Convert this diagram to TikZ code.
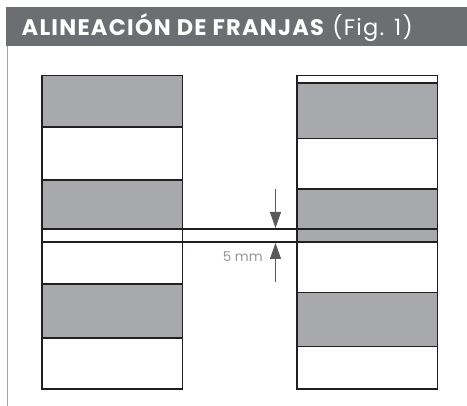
\documentclass[tikz,border=0pt]{standalone}
\usepackage{fontspec}
\newfontfamily\gothic{Poppins}
\newfontfamily\gothicwide[LetterSpace=5.5]{Poppins}
\usetikzlibrary{arrows.meta}
\definecolor{hdrgray}{HTML}{6D6E71}
\definecolor{bandgray}{HTML}{A7A9AC}
\definecolor{inkdark}{HTML}{231F20}
\definecolor{arrowgray}{HTML}{58595B}
\definecolor{labelgray}{HTML}{939598}
\definecolor{framegray}{HTML}{A0A0A0}
\tikzset{
  band/.style={fill=bandgray},
  divider/.style={draw=inkdark, line width=1.9pt},
  outline/.style={draw=inkdark, line width=1.9pt},
  guide/.style={draw=inkdark, line width=2pt},
  dimarrow/.style={draw=arrowgray, line width=1pt, -{Triangle[length=16pt,width=11pt]}, fill=arrowgray},
}
\begin{document}
\begin{tikzpicture}[x=1pt,y=-1pt]
\useasboundingbox (0,0) rectangle (467,406);
% header
\fill[hdrgray] (6,7.5) rectangle (467,46.5);
\node[anchor=west, inner sep=0pt, text=white, font=\gothicwide\fontsize{22.5}{26}\selectfont] (title) at (21.5,28)
  {\textbf{ALINEACIÓN DE FRANJAS} (Fig. 1)};
% left frame line
\draw[framegray, line width=1pt] (7,46.5) -- (7,406);
% left column
\fill[band] (42,75.5) rectangle (182.5,127);
\fill[band] (42,180) rectangle (182.5,229);
\fill[band] (42,284) rectangle (182.5,338);
\draw[divider] (42,127) -- (182.5,127);
\draw[divider] (42,180) -- (182.5,180);
\draw[divider] (42,284) -- (182.5,284);
\draw[divider] (42,338) -- (182.5,338);
\draw[outline] (42,75.5) rectangle (182.5,389);
% right column
\fill[band] (297,83) rectangle (437.5,138.5);
\fill[band] (297,189) rectangle (437.5,242);
\fill[band] (297,292.5) rectangle (437.5,346.5);
\draw[divider] (297,83) -- (437.5,83);
\draw[divider] (297,138.5) -- (437.5,138.5);
\draw[divider] (297,189) -- (437.5,189);
\draw[divider] (297,292.5) -- (437.5,292.5);
\draw[divider] (297,346.5) -- (437.5,346.5);
\draw[outline] (297,75.5) rectangle (437.5,389);
% guide lines
\coordinate (gl1) at (42,229);
\coordinate (gr1) at (437.5,229);
\coordinate (gl2) at (42,242);
\coordinate (gr2) at (437.5,242);
\draw[guide] (gl1) -- (gr1);
\draw[guide] (gl2) -- (gr2);
% dimension arrows
\coordinate (a1s) at (275.5,189);
\coordinate (a1e) at (275.5,228);
\coordinate (a2s) at (275.5,282);
\coordinate (a2e) at (275.5,243);
\draw[dimarrow] (a1s) -- (a1e);
\draw[dimarrow] (a2s) -- (a2e);
\node[anchor=east, inner sep=0pt, text=labelgray, font=\gothic\fontsize{13.5}{16}\selectfont] (dim) at (263,256.5) {5 mm};
\end{tikzpicture}
\end{document}
